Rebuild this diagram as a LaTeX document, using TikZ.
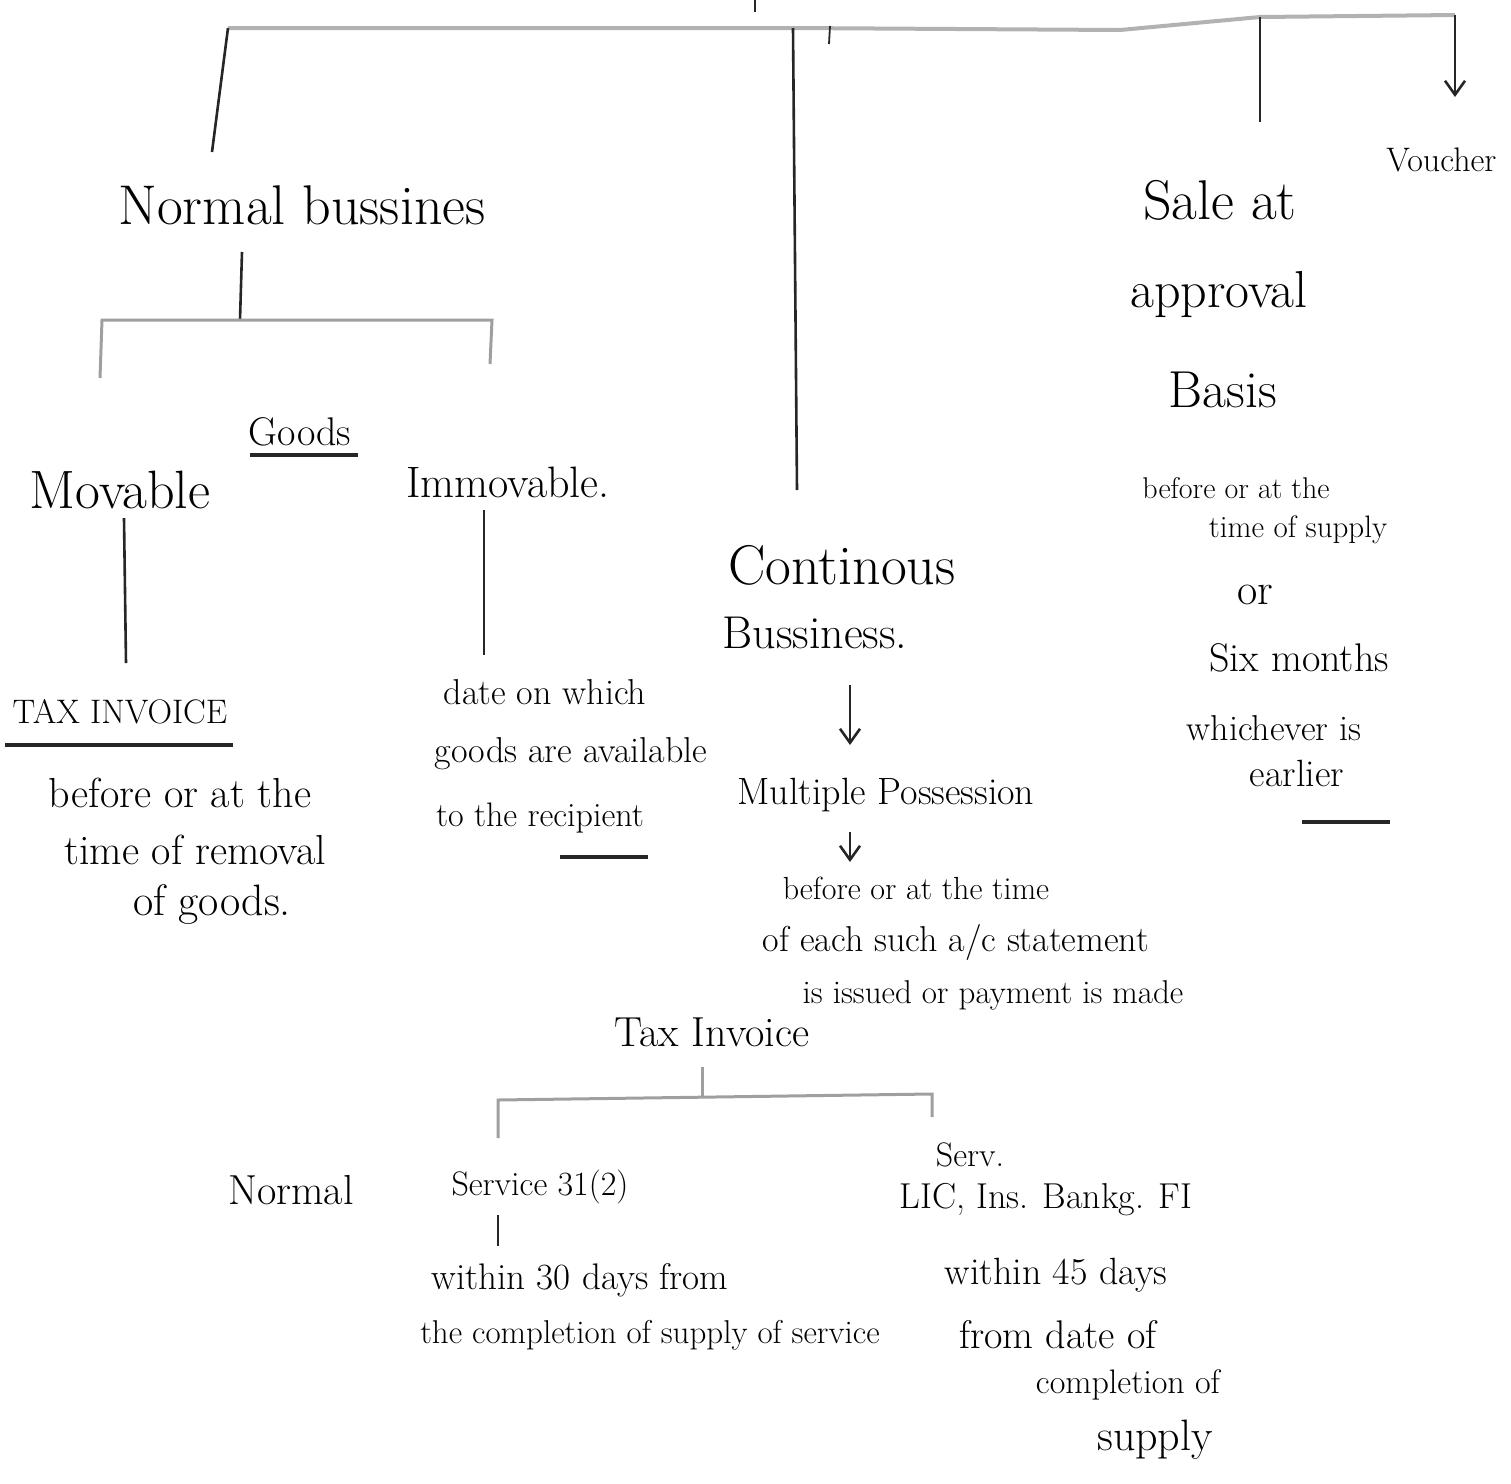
\documentclass[tikz,border=0pt]{standalone}
\usetikzlibrary{arrows.meta}
\newcommand\fsz[1]{\fontsize{#1}{#1}\selectfont}
\begin{document}
\begin{tikzpicture}[x=0.5pt,y=-0.5pt,
  lbl/.style={inner sep=0pt, font=\fsz{#1}},
  conn/.style={line width=1.3pt, black!85},
  topline/.style={line width=2pt, gray!60},
  brk/.style={line width=1.5pt, gray!75},
  ul/.style={line width=1.6pt, black!85},
  arr/.style={conn, -{Straight Barb[length=7pt,width=10pt]}}]
\useasboundingbox (0,0) rectangle (1511,1484);

% ---------- text nodes ----------
\node[lbl=28] (nb) at (302,205) {Normal bussines};
\node[lbl=20] (goods) at (300,432) {Goods};
\node[lbl=27] (mov) at (120,490) {Movable};
\node[lbl=22] (imm) at (508,482) {Immovable.};
\node[lbl=17] (ti1) at (120,712) {TAX INVOICE};
\node[lbl=21] (m1) at (180,793) {before or at the};
\node[lbl=21] (m2) at (195,850) {time of removal};
\node[lbl=22] (m3) at (212,905) {of goods.};
\node[lbl=18] (i1) at (545,692) {date on which};
\node[lbl=18] (i2) at (571,754) {goods are available};
\node[lbl=17] (i3) at (540,818) {to the recipient};

\node[lbl=28] (cb1) at (842,565) {Continous};
\node[lbl=23] (cb2) at (815,633) {Bussiness.};
\node[lbl=19] (mp) at (886,795) {Multiple Possession};
\node[lbl=16] (c1) at (916,888) {before or at the time};
\node[lbl=18] (c2) at (956,942) {of each such a/c statement};
\node[lbl=16.5] (c3) at (993,995) {is issued or payment is made};
\node[lbl=21] (tinv) at (712,1032) {Tax Invoice};
\node[lbl=21] (norm) at (291,1190) {Normal};
\node[lbl=17] (serv) at (540,1187) {Service 31(2)};
\node[lbl=18.5] (s1) at (580,1280) {within 30 days from};
\node[lbl=16.5] (s2) at (650,1335) {the completion of supply of service};
\node[lbl=17] (bk0) at (970,1155) {Serv.};
\node[lbl=18] (bk1) at (1046,1200) {LIC, Ins. Bankg. FI};
\node[lbl=19] (b1) at (1056,1275) {within 45 days};
\node[lbl=20] (b2) at (1058,1335) {from date of};
\node[lbl=17] (b3) at (1128,1385) {completion of};
\node[lbl=22] (b4) at (1155,1440) {supply};

\node[lbl=28] (sa1) at (1220,200) {Sale at};
\node[lbl=26] (sa2) at (1219,295) {approval};
\node[lbl=26] (sa3) at (1223,390) {Basis};
\node[lbl=15] (sa4) at (1236,488) {before or at the};
\node[lbl=15.5] (sa5) at (1298,530) {time of supply};
\node[lbl=22] (sa6) at (1255,595) {or};
\node[lbl=20] (sa7) at (1299,658) {Six months};
\node[lbl=18] (sa8) at (1274,728) {whichever is};
\node[lbl=19] (sa9) at (1297,773) {earlier};
\node[lbl=17, anchor=west] (vou) at (1386,160) {Voucher};

% ---------- coordinates ----------
\coordinate (tL) at (228,28);
\coordinate (tC) at (793,28);
\coordinate (tK) at (1120,30);
\coordinate (tS) at (1260,17);
\coordinate (tR) at (1455,15);
\coordinate (tTop) at (755,0);
\coordinate (tTopE) at (755,12);
\coordinate (tMk) at (830,26);
\coordinate (tMkE) at (829,44);
\coordinate (nbIn) at (212,152);
\coordinate (cbIn) at (797,490);
\coordinate (saIn) at (1260,122);
\coordinate (vouIn) at (1455,97);

\coordinate (nbOut) at (242,252);
\coordinate (gJ) at (240,320);
\coordinate (gL) at (102,320);
\coordinate (gR) at (492,320);
\coordinate (gLe) at (100,378);
\coordinate (gRe) at (490,364);

\coordinate (movOut) at (124,518);
\coordinate (movEnd) at (126,663);
\coordinate (immOut) at (484,510);
\coordinate (immEnd) at (484,655);

\coordinate (cbA) at (850,685);
\coordinate (cbB) at (850,745);
\coordinate (mpA) at (850,832);
\coordinate (mpB) at (850,862);

\coordinate (tiOut) at (702,1067);
\coordinate (tiJ) at (702,1096);
\coordinate (tiL) at (498,1100);
\coordinate (tiR) at (932,1094);
\coordinate (tiLe) at (498,1138);
\coordinate (tiRe) at (932,1117);
\coordinate (svA) at (498,1215);
\coordinate (svB) at (498,1246);

% ---------- connectors ----------
\draw[topline] (tL) -- (tC) -- (tK) -- (tS) -- (tR);
\draw[conn] (tTop) -- (tTopE);
\draw[conn, line width=0.9pt] (tMk) -- (tMkE);
\draw[conn] (tL) -- (nbIn);
\draw[conn] (tC) -- (cbIn);
\draw[conn] (tS) -- (saIn);
\draw[arr] (tR) -- (vouIn);

\draw[conn] (nbOut) -- (gJ);
\draw[brk] (gLe) -- (gL) -- (gR) -- (gRe);

\draw[conn] (movOut) -- (movEnd);
\draw[conn] (immOut) -- (immEnd);

\draw[arr] (cbA) -- (cbB);
\draw[arr] (mpA) -- (mpB);

\draw[brk] (tiOut) -- (tiJ);
\draw[brk] (tiLe) -- (tiL) -- (tiR) -- (tiRe);
\draw[conn] (svA) -- (svB);

% ---------- underlines ----------
\draw[ul] (250,455) -- (358,455);
\draw[ul] (5,745) -- (233,745);
\draw[ul] (560,857) -- (648,857);
\draw[ul] (1302,822) -- (1390,822);
\end{tikzpicture}
\end{document}
